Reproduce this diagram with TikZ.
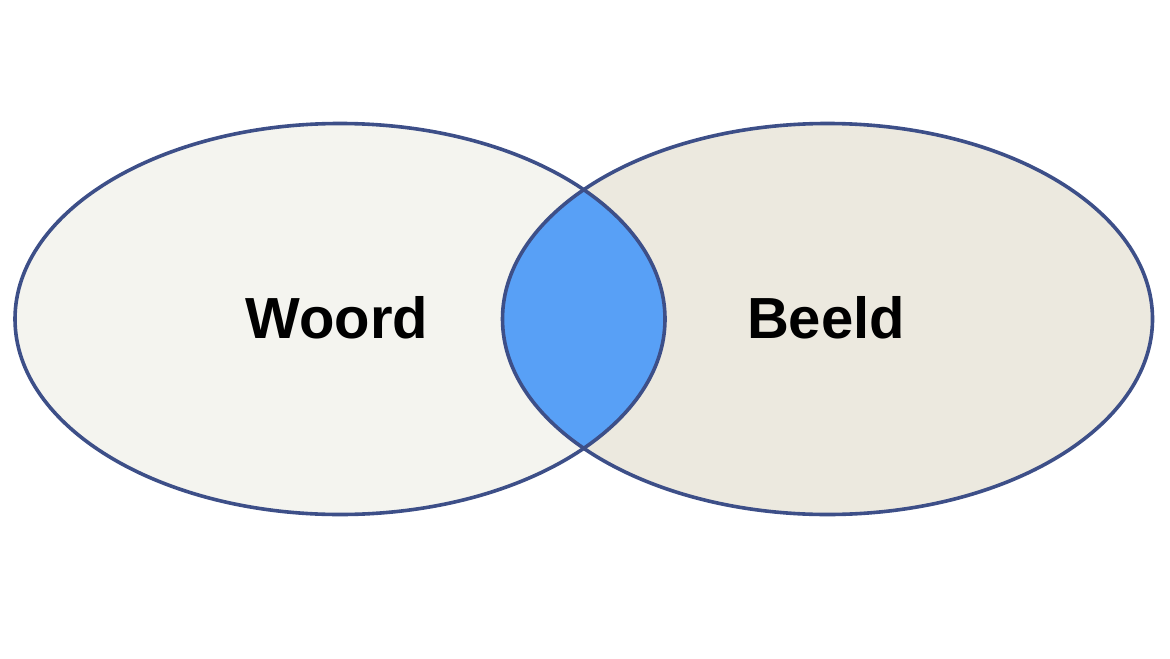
\documentclass[tikz,border=0pt]{standalone}
\usepackage{fontspec}
\setmainfont{Liberation Sans}
\usepackage{tikz}
\usetikzlibrary{shapes.geometric}
\usepackage{xcolor}
\definecolor{RingBlue}{HTML}{3D4F88}
\definecolor{WordFill}{HTML}{F4F4EF}
\definecolor{ImageFill}{HTML}{ECE9DF}
\definecolor{OverlapBlue}{HTML}{58A0F6}

\begin{document}
\begin{tikzpicture}[
    x=0.5pt, y=-0.5pt,
    ring/.style={ellipse, minimum width=325pt, minimum height=195.5pt, inner sep=0pt},
    edge/.style={draw=RingBlue, line width=1.8pt},
    lbl/.style={font=\fontsize{29}{34}\selectfont\bfseries, text=black}
  ]
    \useasboundingbox[fill=white] (0,0) rectangle (1170,658);

    % Two sets
    \node[ring, fill=WordFill] (woord) at (340,319) {};
    \node[ring, fill=ImageFill] (beeld) at (827.5,319) {};

    % Overlap
    \begin{scope}
      \clip (340,319) ellipse [x radius=325, y radius=195.5];
      \fill[OverlapBlue] (827.5,319) ellipse [x radius=324.5, y radius=195.5];
    \end{scope}

    % Outlines
    \node[ring, edge] at (woord) {};
    \node[ring, edge] at (beeld) {};

    % Labels
    \node[lbl] (wlbl) at (337,318) {Woord};
    \node[lbl] (blbl) at (826,318) {Beeld};
  \end{tikzpicture}
\end{document}
